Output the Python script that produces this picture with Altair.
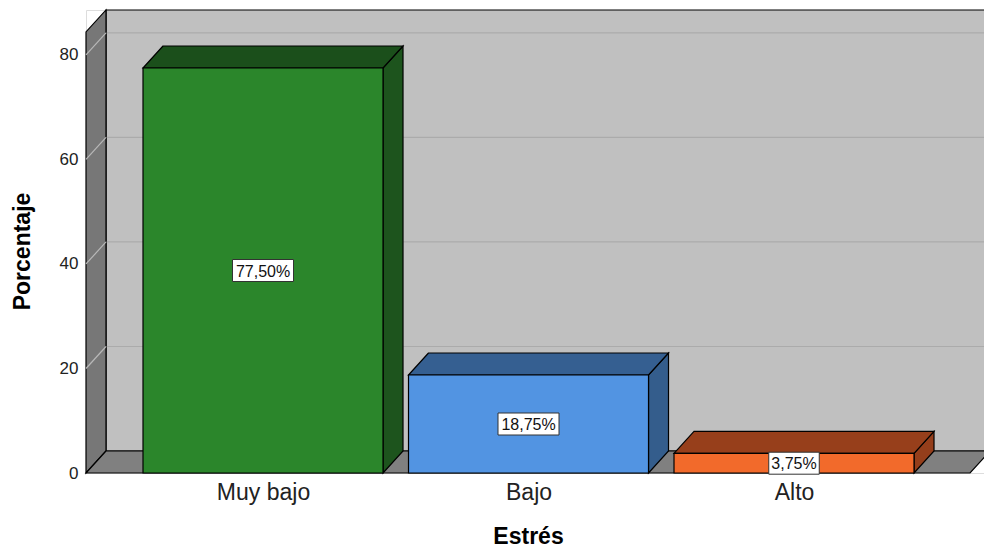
import altair as alt
import pandas as pd

# ---- data ----
categories = ["Muy bajo", "Bajo", "Alto"]
values = [77.50, 18.75, 3.75]
front_colors = ["#2B862B", "#5294E2", "#F26A2B"]
top_colors = ["#1B4F1B", "#355F91", "#973F1B"]
side_colors = ["#1D541D", "#345D8C", "#943E1B"]
y_ticks = [0, 20, 40, 60, 80]

# ---- geometry (in data units) ----
HALF = 0.452      # half bar width (category units)
DX = 0.0753       # depth shift in x (category units)
DY = 4.21         # depth shift in y (percentage units)
X_MIN, X_MAX = -0.6667, 2.7156
Y_MAX = 88.6
WALL_TOP = 84.4
FLOOR_RIGHT = 2.663

font = "Arial, Liberation Sans, sans-serif"
xs = alt.Scale(domain=[X_MIN, X_MAX], nice=False, zero=False)
ys = alt.Scale(domain=[0, Y_MAX], nice=False, zero=False)

def fmt(v):
    return f"{v:.2f}".replace(".", ",") + "%"

label_expr = " : ".join(
    [f"datum.value == {i} ? '{c}'" for i, c in enumerate(categories)]
) + " : ''"

xaxis = alt.Axis(values=[0, 1, 2], labelExpr=label_expr, title="Estrés",
                 domain=False, ticks=False, grid=False, labelFontSize=23,
                 labelFont=font, labelColor="#222", labelPadding=8,
                 titleFont=font, titleFontSize=23, titleFontWeight="bold",
                 titleColor="black", titlePadding=21, titleX=442)
yaxis = alt.Axis(values=y_ticks, title="Porcentaje", domain=False, ticks=False,
                 grid=False, labelFontSize=17, labelFont=font, labelColor="#222",
                 labelPadding=8, titleFont=font, titleFontSize=23,
                 titleFontWeight="bold", titleColor="black", titlePadding=25,
                 titleY=241)

def X(f):
    return alt.X(f, scale=xs, axis=xaxis)

def Y(f):
    return alt.Y(f, scale=ys, axis=yaxis)

# back wall
back = pd.DataFrame({"x": [X_MIN + DX], "x2": [X_MAX + 0.03], "y": [DY], "y2": [Y_MAX]})
back_layer = alt.Chart(back).mark_rect(fill="#C0C0C0", stroke="black", strokeWidth=1.2).encode(
    x=X("x:Q"), x2="x2:Q", y=Y("y:Q"), y2="y2:Q",
)

# back-wall gridlines
grid = pd.DataFrame({"v": y_ticks[1:]})
grid["yb"] = grid["v"] + DY
grid["x"] = X_MIN + DX
grid["x2"] = X_MAX + 0.03
grid_layer = alt.Chart(grid).mark_rule(color="#ABABAB", strokeWidth=1.2).encode(
    x=X("x:Q"), x2="x2:Q", y=Y("yb:Q")
)

# left wall
lw = pd.DataFrame({"x": [X_MIN, X_MIN + DX], "y": [0, DY], "y2": [WALL_TOP, WALL_TOP + DY]})
lw_layer = alt.Chart(lw).mark_area(orient="vertical", fill="#777777", stroke="black", strokeWidth=1.2,
                                   opacity=1).encode(
    x=X("x:Q"), y=Y("y:Q"), y2="y2:Q"
)

# left wall gridlines
lg = pd.DataFrame({"v": y_ticks[1:]})
lg["x"] = X_MIN
lg["x2"] = X_MIN + DX
lg["yb"] = lg["v"] + DY
lg_layer = alt.Chart(lg).mark_rule(color="#B8B8B8", strokeWidth=1.2).encode(
    x=X("x:Q"), x2="x2:Q", y=Y("v:Q"), y2="yb:Q"
)

# floor
fl = pd.DataFrame({"y": [0, DY], "x": [X_MIN, X_MIN + DX], "x2": [FLOOR_RIGHT, FLOOR_RIGHT + DX]})
fl_layer = alt.Chart(fl).mark_area(orient="horizontal", fill="#808080", stroke="black", strokeWidth=1.2,
                                   opacity=1).encode(
    y=Y("y:Q"), x=X("x:Q"), x2="x2:Q"
)

# bars
side_rows, top_rows, front_rows, lab_rows = [], [], [], []
for i, (c, v) in enumerate(zip(categories, values)):
    x0, x1 = i - HALF, i + HALF
    side_rows += [
        {"cat": c, "col": side_colors[i], "x": x1, "y": 0, "y2": v},
        {"cat": c, "col": side_colors[i], "x": x1 + DX, "y": DY, "y2": v + DY},
    ]
    top_rows += [
        {"cat": c, "col": top_colors[i], "y": v, "x": x0, "x2": x1},
        {"cat": c, "col": top_colors[i], "y": v + DY, "x": x0 + DX, "x2": x1 + DX},
    ]
    front_rows.append({"cat": c, "col": front_colors[i], "x": x0, "x2": x1, "y": 0, "y2": v})
    lab = fmt(v)
    wpx = 10.5 * len(lab) - 2
    lab_rows.append({"cat": c, "lab": lab, "xc": i, "yc": v / 2,
                     "bx": i - (wpx / 2) / 265.5, "bx2": i + (wpx / 2) / 265.5,
                     "by": v / 2 - 11 / 5.2257, "by2": v / 2 + 11 / 5.2257})

side_layer = alt.Chart(pd.DataFrame(side_rows)).mark_area(orient="vertical", stroke="black",
                                                          strokeWidth=1.2, opacity=1).encode(
    x=X("x:Q"), y=Y("y:Q"), y2="y2:Q",
    fill=alt.Fill("col:N", scale=None), detail="cat:N"
)
top_layer = alt.Chart(pd.DataFrame(top_rows)).mark_area(orient="horizontal", stroke="black",
                                                        strokeWidth=1.2, opacity=1).encode(
    y=Y("y:Q"), x=X("x:Q"), x2="x2:Q",
    fill=alt.Fill("col:N", scale=None), detail="cat:N"
)
front_layer = alt.Chart(pd.DataFrame(front_rows)).mark_rect(stroke="black", strokeWidth=1.2).encode(
    x=X("x:Q"), x2="x2:Q", y=Y("y:Q"), y2="y2:Q",
    fill=alt.Fill("col:N", scale=None)
)

labdf = pd.DataFrame(lab_rows)
box_layer = alt.Chart(labdf).mark_rect(fill="white", stroke="#333333", strokeWidth=1).encode(
    x=X("bx:Q"), x2="bx2:Q", y=Y("by:Q"), y2="by2:Q"
)
text_layer = alt.Chart(labdf).mark_text(font=font, fontSize=16, color="#111", baseline="middle",
                                        align="center", dy=1).encode(
    x=X("xc:Q"), y=Y("yc:Q"), text="lab:N"
)

chart = alt.layer(
    back_layer, grid_layer, lw_layer, lg_layer, fl_layer,
    side_layer, top_layer, front_layer, box_layer, text_layer
).properties(
    width=898, height=463,
    autosize=alt.AutoSizeParams(type="none"),
    padding={"left": 86, "top": 10, "right": 0, "bottom": 79},
).configure_view(stroke=None).configure(background="white")

chart.save("out.html", embed_options={"renderer": "svg", "actions": False})
